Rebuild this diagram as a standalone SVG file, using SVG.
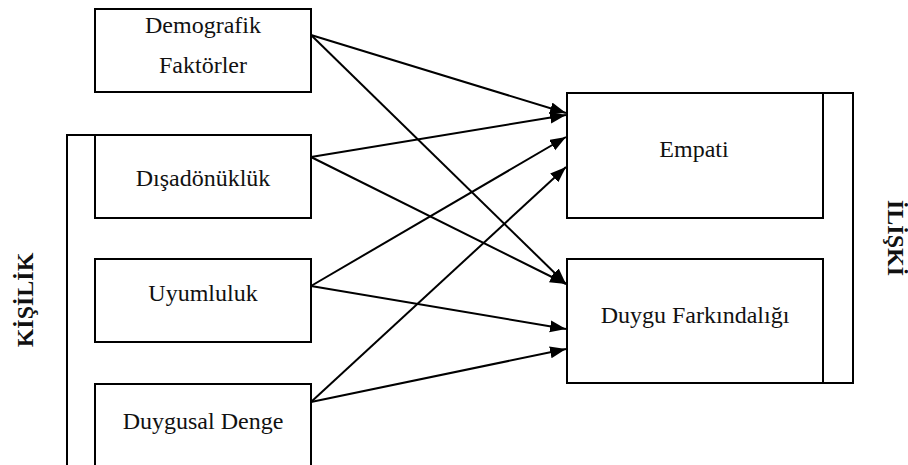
<svg xmlns="http://www.w3.org/2000/svg" width="908" height="465" viewBox="0 0 908 465">
<style>
.box{fill:none;stroke:#000;stroke-width:2}
.ln{fill:none;stroke:#000;stroke-width:2}
.t{font-family:'Liberation Serif','Times New Roman',serif;font-size:24px;fill:#111;text-anchor:middle}
.b{font-family:'Liberation Serif','Times New Roman',serif;font-size:24px;font-weight:bold;fill:#111;text-anchor:middle}
.c{fill:none;stroke:#000;stroke-width:2}
</style>
<defs>
<marker id="ah" markerUnits="userSpaceOnUse" markerWidth="17" markerHeight="13" refX="16" refY="6" orient="auto">
<path d="M0,0 L16,6 L0,12 z" fill="#000"/>
</marker>
</defs>
<rect width="908" height="465" fill="#fff"/>
<g id="kisilik-bracket">
<polyline class="ln" points="95,135 67,135 67,465"/>
<text class="b" transform="translate(33,300) rotate(-90)">KİŞİLİK</text>
</g>
<g id="iliski-bracket">
<polyline class="ln" points="823,93 853,93 853,383 823,383"/>
<text class="b" transform="translate(888,238) rotate(90)">İLİŞKİ</text>
</g>
<g id="demografik">
<rect class="box" x="95" y="9" width="216" height="83"/>
<text class="t" x="203" y="33">Demografik</text>
<text class="t" x="203" y="73">Faktörler</text>
</g>
<g id="disadonukluk">
<rect class="box" x="95" y="135" width="216" height="83"/>
<text class="t" x="203" y="186">Dışadönüklük</text>
</g>
<g id="uyumluluk">
<rect class="box" x="95" y="259" width="216" height="83"/>
<text class="t" x="203" y="301">Uyumluluk</text>
</g>
<g id="duygusal-denge">
<polyline class="box" points="95,465 95,384 311,384 311,465"/>
<text class="t" x="203" y="429">Duygusal Denge</text>
</g>
<g id="empati">
<rect class="box" x="567" y="93" width="256" height="125"/>
<text class="t" x="694" y="157">Empati</text>
</g>
<g id="duygu-farkindaligi">
<rect class="box" x="567" y="259" width="256" height="124"/>
<text class="t" x="695" y="323">Duygu Farkındalığı</text>
</g>
<g id="connectors">
<line class="c" x1="311" y1="35" x2="566" y2="113" marker-end="url(#ah)"/>
<line class="c" x1="311" y1="35" x2="566" y2="284" marker-end="url(#ah)"/>
<line class="c" x1="311" y1="157" x2="566" y2="115" marker-end="url(#ah)"/>
<line class="c" x1="311" y1="157" x2="566" y2="284" marker-end="url(#ah)"/>
<line class="c" x1="311" y1="286" x2="566" y2="137" marker-end="url(#ah)"/>
<line class="c" x1="311" y1="286" x2="566" y2="329" marker-end="url(#ah)"/>
<line class="c" x1="311" y1="402" x2="566" y2="167" marker-end="url(#ah)"/>
<line class="c" x1="311" y1="402" x2="566" y2="349" marker-end="url(#ah)"/>
</g>
</svg>
